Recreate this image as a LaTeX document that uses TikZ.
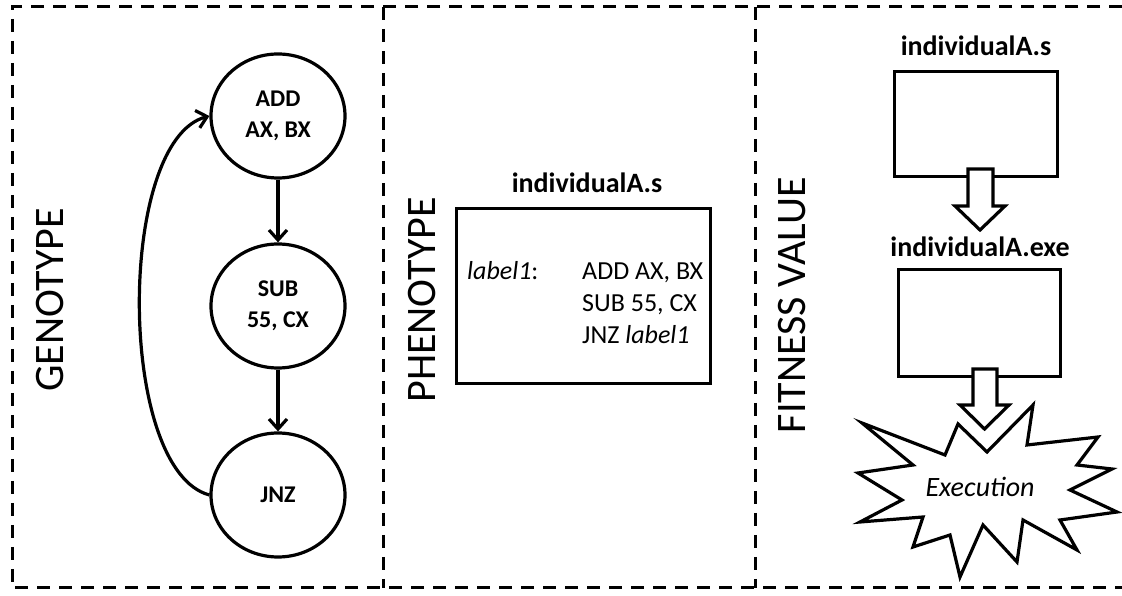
\documentclass[tikz,border=0pt]{standalone}
\usepackage{fontspec}
\setmainfont{Carlito}
\usetikzlibrary{arrows.meta,positioning,calc,shapes.geometric}

\begin{document}
\begin{tikzpicture}[
  x=1pt, y=1pt,
  >={Straight Barb[length=10pt,width=18pt]},
  frame/.style={dash pattern=on 13pt off 9pt, line width=3pt},
  gene/.style={ellipse, draw, line width=3.2pt, minimum width=134pt, minimum height=124pt, inner sep=0pt, align=center, font=\fontsize{24}{31}\selectfont\bfseries},
  link/.style={->, line width=3.2pt},
  sidelabel/.style={rotate=90, font=\fontsize{42}{50}\selectfont},
  filebox/.style={draw, line width=3.2pt, inner sep=0pt},
  filename/.style={font=\fontsize{28}{34}\selectfont\bfseries},
  code/.style={anchor=base west, inner sep=0pt, font=\fontsize{26}{32}\selectfont},
  blockarrow/.style={draw, fill=white, line width=3.2pt, line join=miter},
  burst/.style={draw, fill=white, line width=3.2pt, line join=miter}
]
\useasboundingbox (0,0) rectangle (1122,596);

% Rahmen und Trennlinien der drei Spalten
\draw[frame] (1122,589) -- (12,589) -- (12,8) -- (1122,8);
\draw[frame] (383,589) -- (383,8);
\draw[frame] (755,589) -- (755,8);

% Genotyp: Befehle als Knoten
\node[sidelabel] (genolabel) at (50,296) {GENOTYPE};
\node[gene] (add) at (278,480) {ADD\\AX, BX};
\node[gene] (sub) at (278,290) {SUB\\55, CX};
\node[gene] (jnz) at (278,101) {JNZ};

\draw[link] (add) -- (sub);
\draw[link] (sub) -- (jnz);
\draw[link] (jnz.west) to[out=165, in=195, looseness=0.65] (add.west);

% Phänotyp: Assemblerquelltext
\node[sidelabel] (phenolabel) at (422,296) {PHENOTYPE};
\node[filebox, minimum width=254pt, minimum height=175pt] (source) at (583.5,300) {};
\node[filename] (sourcename) at (587,413) {individualA.s};
\node[code] (lbl) at (467,316) {\itshape label1\upshape:};
\node[code] (line1) at (582,316) {ADD AX, BX};
\node[code] (line2) at (582,284) {SUB 55, CX};
\node[code] (line3) at (582,252) {JNZ \itshape label1};

% Fitnesswert: Übersetzen und Ausführen
\node[sidelabel] (fitlabel) at (792,291) {FITNESS VALUE};
\node[filebox, minimum width=163pt, minimum height=105pt] (asm) at (976,472) {};
\node[filename] (asmname) at (976,550) {individualA.s};
\node[filebox, minimum width=162pt, minimum height=107pt] (exe) at (979.5,273) {};
\node[filename] (exename) at (980,349) {individualA.exe};

\draw[blockarrow] (968,427) -- (968,390) -- (955,390) -- (980,366) -- (1005,390) -- (993,390) -- (993,427) -- cycle;
\draw[blockarrow] (973,227) -- (973,191) -- (960,191) -- (984.5,167) -- (1009,191) -- (997,191) -- (997,227) -- cycle;

% Explosion
\draw[burst] (862,173) -- (945,141) -- (958,172) -- (987,144) -- (1033,191) -- (1027,151)
  -- (1098,159) -- (1077,131) -- (1112,127) -- (1070,106) -- (1117,84) -- (1060,76)
  -- (1077,46) -- (1023,76) -- (1017,34) -- (983,71) -- (960,19) -- (950,61)
  -- (913,49) -- (923,79) -- (860,74) -- (902,96) -- (858,123) -- (913,131) -- cycle;
\node[font=\fontsize{28}{34}\selectfont\itshape] (run) at (980,109) {Execution};

\end{tikzpicture}
\end{document}
